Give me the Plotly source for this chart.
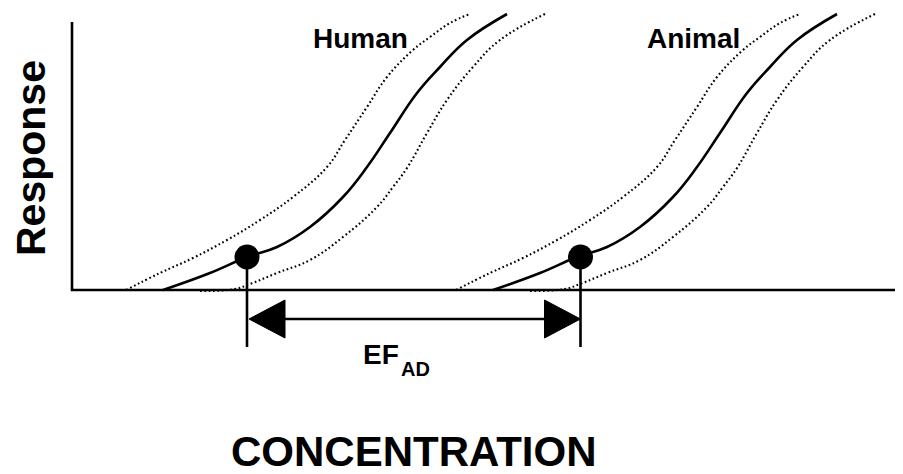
import plotly.graph_objects as go

# ---- data (concentration offset from y-axis, response above x-axis; arbitrary units) ----
human_mid_x = [91, 138, 175, 205, 238, 271, 295, 318, 345, 368, 395, 435]
human_mid_y = [0, 17, 33, 43, 63, 93, 123, 157, 197, 223, 250, 276]
human_lo_x = [54, 88, 121, 155, 188, 221, 255, 273, 295, 315, 341, 358, 378, 398]
human_lo_y = [0, 17, 32, 50, 70, 93, 123, 150, 183, 213, 240, 253, 267, 276]
human_hi_x = [128, 163, 178, 205, 238, 271, 305, 321, 335, 355, 375, 401, 428, 473]
human_hi_y = [-1, 1, 6, 17, 30, 53, 83, 103, 122, 157, 190, 223, 250, 276]

animal_mid_x = [421, 468, 505, 535, 568, 601, 625, 648, 675, 698, 725, 765]
animal_mid_y = [0, 17, 33, 43, 63, 93, 123, 157, 197, 223, 250, 276]
animal_lo_x = [384, 418, 451, 485, 518, 551, 585, 603, 625, 645, 671, 688, 708, 728]
animal_lo_y = [0, 17, 32, 50, 70, 93, 123, 150, 183, 213, 240, 253, 267, 276]
animal_hi_x = [458, 493, 508, 535, 568, 601, 635, 651, 665, 685, 705, 731, 758, 803]
animal_hi_y = [-1, 1, 6, 17, 30, 53, 83, 103, 122, 157, 190, 223, 250, 276]

point_x = [175, 508.5]   # human, animal reference points
point_y = [33, 33]

x_axis_end = 831
y_axis_top = 268

# ---- style / geometry constants ----
FONT = "Liberation Sans, Arial, sans-serif"
BLACK = "#000000"
arrow_y = -29
drop_bottom = -57
head_len = 36
head_half = 19
DOT_DASH = "1.7px,2.6px"

fig = go.Figure()

def curve(x, y, dotted):
    fig.add_trace(go.Scatter(
        x=x, y=y, mode="lines",
        line=dict(color=BLACK, width=2.1 if dotted else 2.6,
                  dash=DOT_DASH if dotted else "solid",
                  shape="spline", smoothing=1.2),
        hoverinfo="skip", showlegend=False))

for xs, ys, d in [(human_lo_x, human_lo_y, True), (human_hi_x, human_hi_y, True),
                  (human_mid_x, human_mid_y, False),
                  (animal_lo_x, animal_lo_y, True), (animal_hi_x, animal_hi_y, True),
                  (animal_mid_x, animal_mid_y, False)]:
    curve(xs, ys, d)

# axes
fig.add_trace(go.Scatter(x=[0, 0, x_axis_end], y=[y_axis_top, 0, 0], mode="lines",
                         line=dict(color=BLACK, width=2.6), hoverinfo="skip", showlegend=False))

# drop lines from the points
for px, py in zip(point_x, point_y):
    fig.add_trace(go.Scatter(x=[px, px], y=[py, drop_bottom], mode="lines",
                             line=dict(color=BLACK, width=2.6), hoverinfo="skip", showlegend=False))

# double-headed arrow between the points
x0, x1 = point_x
fig.add_trace(go.Scatter(x=[x0 + head_len - 2, x1 - head_len + 2], y=[arrow_y, arrow_y], mode="lines",
                         line=dict(color=BLACK, width=2.6), hoverinfo="skip", showlegend=False))
fig.add_trace(go.Scatter(x=[x0 + 2, x0 + 2 + head_len, x0 + 2 + head_len, x0 + 2],
                         y=[arrow_y, arrow_y + head_half, arrow_y - head_half, arrow_y],
                         mode="lines", fill="toself", fillcolor=BLACK,
                         line=dict(color=BLACK, width=1), hoverinfo="skip", showlegend=False))
fig.add_trace(go.Scatter(x=[x1, x1 - head_len, x1 - head_len, x1],
                         y=[arrow_y, arrow_y + head_half, arrow_y - head_half, arrow_y],
                         mode="lines", fill="toself", fillcolor=BLACK,
                         line=dict(color=BLACK, width=1), hoverinfo="skip", showlegend=False))

# points
fig.add_trace(go.Scatter(x=point_x, y=point_y, mode="markers",
                         marker=dict(size=25, color=BLACK), hoverinfo="skip", showlegend=False))

def label(text, x, y, size, angle=0):
    fig.add_annotation(x=x, y=y, xref="x", yref="y", text=text, showarrow=False,
                       xanchor="center", yanchor="middle", textangle=angle, borderpad=0,
                       font=dict(family=FONT, size=size, color=BLACK, weight="bold"))

label("Human", 288, 252, 28)
label("Animal", 621, 252, 28)
label("EF", 308.5, -64, 28)
label("AD", 343.5, -79, 20)
label("CONCENTRATION", 342, -161, 42)
label("Response", -41, 132, 41, angle=-90)

# page body has an 8px margin: size the figure to the visible area
fig.update_layout(
    width=895, height=466,
    margin=dict(l=0, r=0, t=0, b=0),
    paper_bgcolor="white", plot_bgcolor="white",
    xaxis=dict(range=[-64, 831], visible=False, fixedrange=True),
    yaxis=dict(range=[-184, 282], visible=False, fixedrange=True),
    showlegend=False,
)

fig.write_html("out.html")
